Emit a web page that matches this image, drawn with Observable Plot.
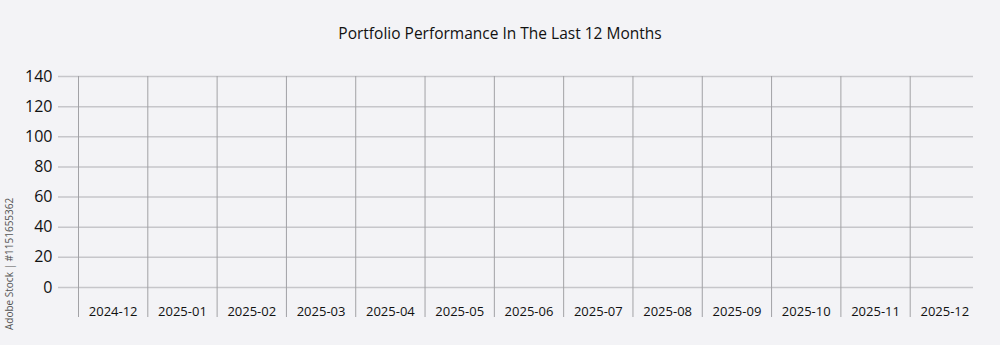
<!DOCTYPE html>
<html>
<head>
<meta charset="utf-8">
<script src="https://cdn.jsdelivr.net/npm/d3@7"></script>
<script src="https://cdn.jsdelivr.net/npm/@observablehq/plot@0.6"></script>
<style>
  html, body { margin: 0; padding: 0; background: #f3f3f6; }
  #wrap { position: relative; width: 1000px; height: 345px; background: #f3f3f6; font-family: "Open Sans", sans-serif; }
  #title { height: 66px; line-height: 66px; text-align: center; font-size: 15.5px; color: #111; }
  #mark { position: absolute; left: 2px; top: 330px; transform: rotate(-90deg); transform-origin: 0 0; font-size: 10px; color: #555; white-space: nowrap; }
</style>
</head>
<body>
<div id="wrap">
  <div id="title">Portfolio Performance In The Last 12 Months</div>
  <div id="chart"></div>
  <div id="mark">Adobe Stock | #1151655362</div>
</div>
<script>
const months = ["2024-12","2025-01","2025-02","2025-03","2025-04","2025-05","2025-06","2025-07","2025-08","2025-09","2025-10","2025-11","2025-12"];
const yTicks = [0, 20, 40, 60, 80, 100, 120, 140];
const portfolioValues = []; // the reference chart shows no plotted values

const boundaries = months.map((m, i) => i);
const centers = months.map((m, i) => i + 0.5);

const chart = Plot.plot({
  width: 1000,
  height: 279,
  marginTop: 10,
  marginBottom: 58,
  marginLeft: 78,
  marginRight: 21,
  style: { background: "transparent", fontFamily: "Open Sans, sans-serif", color: "#111" },
  x: { type: "linear", domain: [0, months.length] },
  y: { domain: [0, 140] },
  marks: [
    Plot.ruleY(yTicks, { y: d => d, stroke: "#c6c6ca", strokeWidth: 1.5, insetLeft: -20, insetRight: 6 }),
    Plot.ruleX(boundaries, { x: d => d, stroke: "#a2a2a6", strokeWidth: 1, insetBottom: -30 }),
    Plot.axisY(yTicks, { tickSize: 0, tickPadding: 26, fontSize: 16, label: null, fill: "#111" }),
    Plot.axisX(centers, { tickSize: 0, tickPadding: 19, fontSize: 13, label: null, fill: "#111",
      tickFormat: d => months[Math.floor(d)] }),
    Plot.lineY(portfolioValues, { x: (d, i) => i + 0.5, y: d => d, stroke: "#1f77b4" })
  ]
});
document.getElementById("chart").appendChild(chart);
</script>
</body>
</html>
